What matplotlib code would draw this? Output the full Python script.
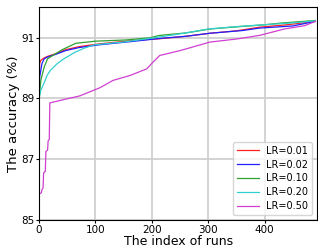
import matplotlib
matplotlib.use('Agg')
import matplotlib.pyplot as plt

labels = ['LR=0.01', 'LR=0.02', 'LR=0.10', 'LR=0.20', 'LR=0.50']
colors = ['#ff2020', '#2020ff', '#30a030', '#30d0d0', '#d040d0']

x_r = [0, 1, 3, 9, 15, 30, 47, 71, 106, 165, 214, 260, 303, 350, 391, 440, 490]
y_r = [89.5, 90.15, 90.25, 90.33, 90.38, 90.47, 90.6, 90.7, 90.79, 90.9, 90.96, 91.04, 91.14, 91.22, 91.34, 91.42, 91.53]

x_b = [0, 1, 5, 9, 15, 30, 47, 71, 106, 165, 214, 260, 303, 361, 391, 450, 490]
y_b = [89.0, 89.7, 90.14, 90.3, 90.36, 90.45, 90.57, 90.67, 90.76, 90.87, 90.97, 91.04, 91.14, 91.23, 91.31, 91.38, 91.53]

x_g = [0, 3, 9, 15, 24, 41, 65, 100, 154, 196, 214, 260, 303, 350, 400, 432, 490]
y_g = [89.0, 89.59, 90.03, 90.3, 90.41, 90.6, 90.81, 90.88, 90.92, 90.99, 91.07, 91.15, 91.28, 91.35, 91.42, 91.48, 91.56]

x_c = [0, 3, 12, 14, 20, 32, 44, 62, 80, 98, 125, 149, 200, 250, 300, 350, 400, 450, 490]
y_c = [88.99, 89.26, 89.65, 89.75, 89.92, 90.14, 90.3, 90.5, 90.65, 90.76, 90.81, 90.85, 90.98, 91.12, 91.28, 91.36, 91.42, 91.48, 91.55]

x_m = [0, 4, 5, 7, 8, 11, 12, 15, 16, 18, 19, 37, 72, 108, 131, 161, 191, 202, 214, 250, 303, 350, 391, 435, 471, 490]
y_m = [85.85, 85.9, 86.0, 86.05, 86.55, 86.6, 87.25, 87.3, 87.6, 87.65, 88.85, 88.93, 89.08, 89.35, 89.59, 89.75, 89.97, 90.19, 90.41, 90.57, 90.85, 90.95, 91.07, 91.28, 91.39, 91.53]

xs = [x_r, x_b, x_g, x_c, x_m]
ys = [y_r, y_b, y_g, y_c, y_m]

fig = plt.figure(figsize=(3.18, 2.45), dpi=100)
ax = fig.add_axes([0.123, 0.102, 0.874, 0.869])
for x, y, c, l in zip(xs, ys, colors, labels):
    ax.plot(x, y, color=c, lw=0.9, label=l)
ax.set_xlim(0, 493)
ax.set_ylim(85, 92)
ax.set_xticks([0, 100, 200, 300, 400])
ax.set_yticks([85, 87, 89, 91])
ax.grid(True, color='#cccccc', lw=1.2)
ax.set_axisbelow(True)
ax.tick_params(labelsize=7.5, length=2.5, pad=1)
ax.set_xlabel('The index of runs', fontsize=9, labelpad=0)
ax.set_ylabel('The accuracy (%)', fontsize=9.5, labelpad=1)
ax.legend(loc='lower right', fontsize=7, handlelength=2.2, labelspacing=0.4, borderpad=0.4)
fig.savefig('out.png', dpi=100)
